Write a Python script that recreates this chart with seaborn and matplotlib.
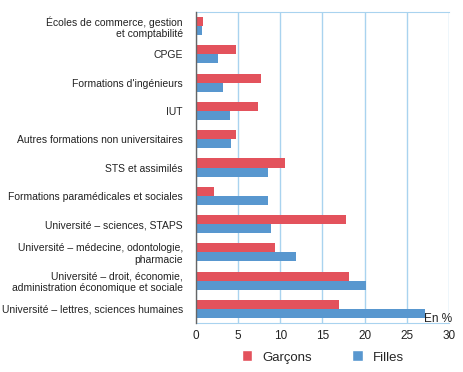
import matplotlib
matplotlib.use("Agg")
import matplotlib.pyplot as plt
import seaborn as sns
import pandas as pd
import numpy as np
from matplotlib.patches import Patch
from matplotlib.ticker import FixedLocator

categories = [
    "Écoles de commerce, gestion\net comptabilité",
    "CPGE",
    "Formations d'ingénieurs",
    "IUT",
    "Autres formations non universitaires",
    "STS et assimilés",
    "Formations paramédicales et sociales",
    "Université – sciences, STAPS",
    "Université – médecine, odontologie,\npharmacie",
    "Université – droit, économie,\nadministration économique et sociale",
    "Université – lettres, sciences humaines",
]
garcons = [0.8, 4.7, 7.7, 7.4, 4.7, 10.6, 2.1, 17.8, 9.4, 18.2, 16.9]
filles = [0.7, 2.6, 3.2, 4.0, 4.1, 8.5, 8.5, 8.9, 11.8, 20.2, 27.2]
series = ["Garçons", "Filles"]
xticks = [0, 5, 10, 15, 20, 25, 30]

df = pd.DataFrame({
    "cat": categories * 2,
    "val": garcons + filles,
    "sexe": [series[0]] * len(categories) + [series[1]] * len(categories),
})

sns.set_style("white")
plt.rcParams["font.family"] = ["Liberation Sans", "DejaVu Sans"]

red = "#e3525c"
blue = "#5897cf"
grid = "#a9d3ef"

fig = plt.figure(figsize=(4.64, 3.72), dpi=100)
ax = fig.add_axes([196 / 464, 1 - 323 / 372, 253 / 464, (323 - 12) / 372])

sns.barplot(data=df, y="cat", x="val", hue="sexe", orient="h",
            palette=[red, blue], width=0.64, ax=ax, legend=False,
            edgecolor="none", saturation=1)

ax.set_xlim(0, 30)
ax.set_ylim(len(categories) - 0.5, -0.5)
ax.set_xticks(xticks)
ax.set_xticklabels([str(t) for t in xticks], fontsize=8.5, color="#222222")
ax.set_xlabel("")
ax.set_ylabel("")
ax.set_yticks(range(len(categories)))
ax.set_yticklabels(categories, fontsize=7.45, color="#222222", linespacing=1.15)
ax.tick_params(axis="y", length=0, pad=9.5)
ax.tick_params(axis="x", length=0, pad=5)
ax.yaxis.set_minor_locator(FixedLocator(np.arange(-0.5, len(categories), 1.0)))
ax.tick_params(axis="y", which="minor", length=5, color=grid, width=1)

ax.grid(axis="x", color=grid, linewidth=1)
ax.set_axisbelow(True)
ax.spines["right"].set_visible(False)
ax.spines["top"].set_color(grid)
ax.spines["bottom"].set_color(grid)
ax.spines["left"].set_color("#666666")
ax.spines["left"].set_linewidth(1)
ax.spines["left"].set_zorder(5)

ax.text(30.35, 10.35, "En %", ha="right", va="center", fontsize=8.5, color="#222222")

handles = [Patch(facecolor=red, label=series[0]), Patch(facecolor=blue, label=series[1])]
fig.legend(handles=handles, loc="center", bbox_to_anchor=(323 / 464, 1 - 357 / 372),
           ncol=2, frameon=False, fontsize=9.5, handlelength=0.8, handleheight=0.9,
           columnspacing=3.0, handletextpad=0.8)

fig.savefig("out.png", dpi=100)
